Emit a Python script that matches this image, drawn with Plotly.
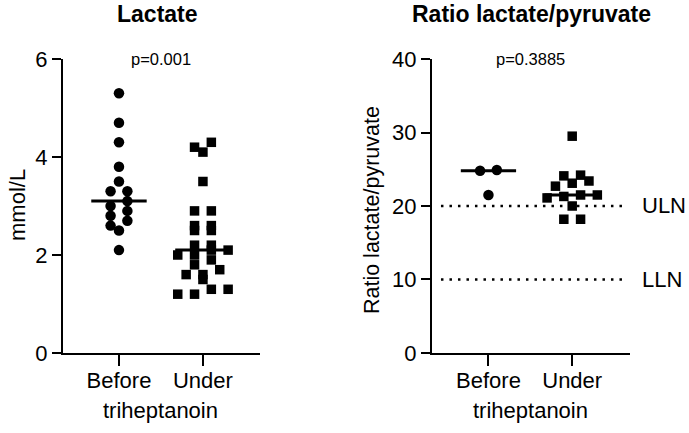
import numpy as np
import plotly.graph_objects as go

# ---------------- data ----------------
categories = ["Before", "Under"]
lactate_before = [5.3, 4.7, 4.3, 3.8, 3.5, 3.3, 3.3, 3.1, 3.0, 2.9, 2.8, 2.7, 2.6, 2.5, 2.1]
lactate_under = [4.3, 4.2, 4.1, 3.5, 2.9, 2.9, 2.6, 2.6, 2.5, 2.5, 2.2, 2.2, 2.1, 2.1,
                 2.0, 2.0, 1.9, 1.8, 1.7, 1.6, 1.6, 1.5, 1.3, 1.3, 1.2, 1.2]
ratio_before = [24.9, 24.8, 21.5]
ratio_under = [29.5, 24.2, 24.1, 23.4, 23.1, 22.7, 21.5, 21.5, 21.3, 21.1, 20.0, 18.2, 18.2]
ratio_limits = {"ULN": 20, "LLN": 10}
p_lactate = "p=0.001"
p_ratio = "p=0.3885"
lactate_ticks = [0, 2, 4, 6]
ratio_ticks = [0, 10, 20, 30, 40]

FONT = "Liberation Sans, Arial, sans-serif"


def swarm(values, center, bin_h, step):
    """Simple column-scatter layout: values that fall in the same
    vertical bin are spread side by side around the category centre."""
    v = np.asarray(values, float)
    order = np.argsort(v, kind="stable")
    bins = np.floor(v / bin_h + 1e-6).astype(int)
    x = np.zeros_like(v)
    for b in np.unique(bins):
        idx = [i for i in order if bins[i] == b]
        n = len(idx)
        for k, i in enumerate(idx):
            x[i] = center + (k - (n - 1) / 2) * step
    return x


fig = go.Figure()

panels = [
    (lactate_before, lactate_under, "x", "y", 0.2),
    (ratio_before, ratio_under, "x2", "y2", 1.4),
]
for before, under, xa, ya, bh in panels:
    for ci, (vals, sym, size) in enumerate([(before, "circle", 10.5), (under, "square", 9.5)]):
        xs = swarm(vals, ci, bh, 0.2)
        fig.add_trace(go.Scatter(
            x=xs, y=vals, mode="markers", xaxis=xa, yaxis=ya,
            marker=dict(symbol=sym, size=size, color="black", line=dict(width=0)),
            showlegend=False, hoverinfo="y", cliponaxis=False))
        med = float(np.median(vals))
        fig.add_trace(go.Scatter(
            x=[ci - 0.33, ci + 0.33], y=[med, med], mode="lines",
            xaxis=xa, yaxis=ya, line=dict(color="black", width=3),
            showlegend=False, hoverinfo="skip"))

# reference lines ULN / LLN
for name, val in ratio_limits.items():
    fig.add_shape(type="line", xref="x2", yref="y2", x0=-0.567, x1=1.65, y0=val, y1=val,
                  line=dict(color="black", width=2.5, dash="2.5px,6px"))
    fig.add_annotation(xref="paper", yref="y2", x=0.929, y=val, text=name,
                       xanchor="left", yanchor="middle", showarrow=False,
                       font=dict(size=22, color="black", family=FONT))

ydom = [0.1848, 0.8637]
axis_common = dict(showline=True, linecolor="black", linewidth=2, ticks="outside",
                   tickwidth=2, tickcolor="black", showgrid=False, automargin=False,
                   zeroline=False, tickfont=dict(size=22, color="black", family=FONT))

fig.update_layout(
    width=689, height=433,
    margin=dict(l=0, r=0, t=0, b=0),
    paper_bgcolor="white", plot_bgcolor="white",
    font=dict(family=FONT, color="black"),
    xaxis=dict(domain=[0.0914, 0.3774], range=[-0.667, 1.68], anchor="y",
               tickvals=[0, 1], ticktext=categories, ticklen=11, ticklabelstandoff=-4,
               **axis_common),
    yaxis=dict(domain=ydom, range=[0, 6], anchor="x", tickvals=lactate_ticks,
               ticklen=9, **axis_common),
    xaxis2=dict(domain=[0.627, 0.914], range=[-0.674, 1.687], anchor="y2",
                tickvals=[0, 1], ticktext=categories, ticklen=11, ticklabelstandoff=-4,
                **axis_common),
    yaxis2=dict(domain=ydom, range=[0, 40], anchor="x2", tickvals=ratio_ticks,
                ticklen=9, **axis_common),
)

ann = [
    dict(x=0.2293, y=0.9677, text="<b>Lactate</b>", size=23),
    dict(x=0.7707, y=0.9677, text="<b>Ratio lactate/pyruvate</b>", size=23),
    dict(x=0.233, y=0.0531, text="triheptanoin", size=22),
    dict(x=0.770, y=0.0531, text="triheptanoin", size=22),
]
for a in ann:
    fig.add_annotation(xref="paper", yref="paper", x=a["x"], y=a["y"], text=a["text"],
                       showarrow=False, xanchor="center", yanchor="middle",
                       font=dict(size=a["size"], color="black", family=FONT))

fig.add_annotation(xref="paper", yref="paper", x=0.0261, y=0.5266, text="mmol/L",
                   textangle=-90, showarrow=False, xanchor="center", yanchor="middle",
                   font=dict(size=22, color="black", family=FONT))
fig.add_annotation(xref="paper", yref="paper", x=0.540, y=0.515, text="Ratio lactate/pyruvate",
                   textangle=-90, showarrow=False, xanchor="center", yanchor="middle",
                   font=dict(size=21.5, color="black", family=FONT))

fig.add_annotation(xref="x", yref="y", x=0.5, y=6, text=p_lactate, showarrow=False,
                   xanchor="center", yanchor="middle", font=dict(size=16.5, color="black", family=FONT))
fig.add_annotation(xref="x2", yref="y2", x=0.5, y=40, text=p_ratio, showarrow=False,
                   xanchor="center", yanchor="middle", font=dict(size=16.5, color="black", family=FONT))

fig.write_html("out.html", config={"displayModeBar": False},
               post_script="document.body.style.margin='0';document.body.style.overflow='hidden';")
